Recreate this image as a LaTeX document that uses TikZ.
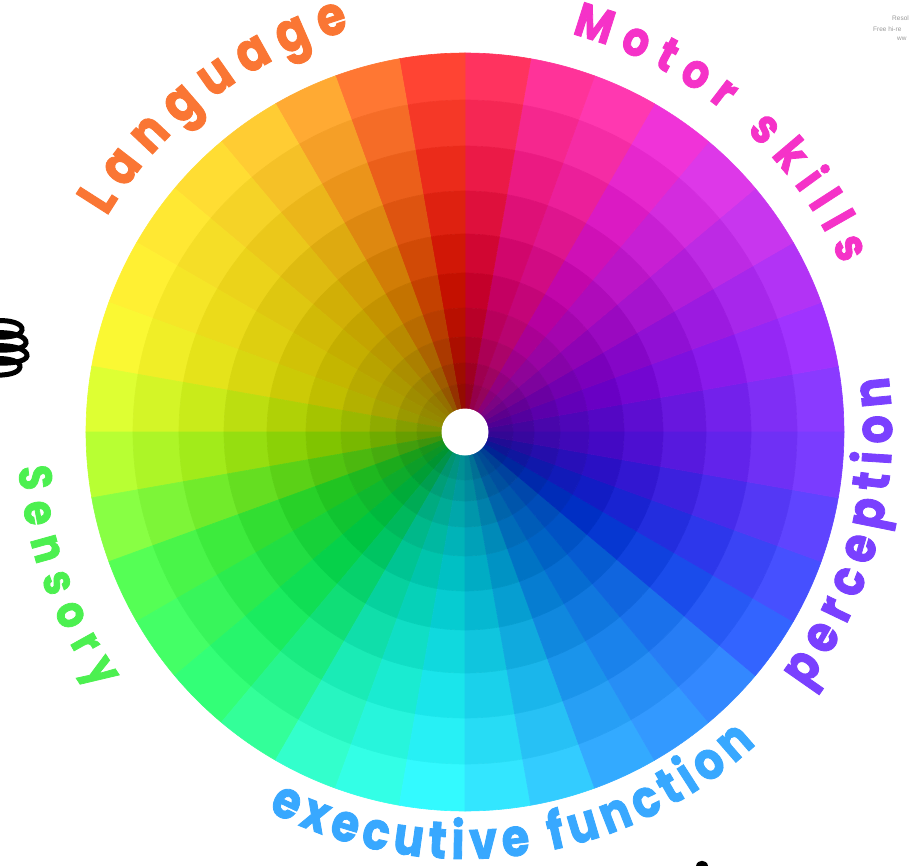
\documentclass[tikz,border=0pt]{standalone}
\usepackage{fontspec}
\newfontfamily\handfont{Poppins}[FakeStretch=0.86, FakeBold=1.6]
\newfontfamily\wmfont{Liberation Sans}
\usetikzlibrary{decorations.text}
\definecolor{clang}{RGB}{250,118,52}
\definecolor{cmotor}{RGB}{245,50,200}
\definecolor{cperc}{RGB}{122,64,255}
\definecolor{csens}{RGB}{76,240,80}
\definecolor{cexec}{RGB}{56,168,255}
\tikzset{
  wseg/.style={line width=0.6pt, line join=round},
  coil/.style={line width=5pt, line cap=round, black},
}
\begin{document}
\begin{tikzpicture}[x=1pt,y=1pt]
\useasboundingbox (-465,-433) rectangle (445,432);
\clip (-465,-433) rectangle (445,432);
% colour wheel
\foreach \R/\G/\B [count=\i from 0] in {
 138/58/255, 160/51/255, 178/51/245, 200/54/238, 221/56/232, 240/51/216,
 255/56/176, 255/51/153, 255/51/95, 255/68/51, 255/119/51, 255/170/51,
 255/204/51, 255/221/51, 255/232/51, 255/240/51, 250/248/51, 222/255/51,
 184/255/51, 136/255/68, 85/255/85, 68/255/102, 51/255/119, 51/255/153,
 51/255/204, 51/255/230, 51/250/255, 51/230/255, 51/204/255, 51/170/255,
 51/153/255, 51/136/255, 51/100/255, 70/80/255, 95/68/255, 122/60/255}{
  \foreach \ro/\ri/\s/\v in {379/332/0.80/1.00, 332/286/0.84/0.96, 286/241/0.89/0.92,
     241/198/0.93/0.87, 198/159/0.97/0.82, 159/124/1/0.77, 124/95/1/0.72,
     95/69/1/0.67, 69/48/1/0.62, 48/20/1/0.58}{
    \pgfmathtruncatemacro\cR{round(((\R-51)/204*\s+1-\s)*\v*255)}
    \pgfmathtruncatemacro\cG{round(((\G-51)/204*\s+1-\s)*\v*255)}
    \pgfmathtruncatemacro\cB{round(((\B-51)/204*\s+1-\s)*\v*255)}
    \definecolor{segc}{RGB}{\cR,\cG,\cB}
    \filldraw[wseg, fill=segc, draw=segc]
      (\i*10:\ro) arc[start angle=\i*10, end angle=\i*10+10, radius=\ro]
      -- (\i*10+10:\ri) arc[start angle=\i*10+10, end angle=\i*10, radius=\ri] -- cycle;
  }
}
\fill[white] (0,0) circle (23.5);
% labels along arcs
\path[decorate, decoration={text along path, text color=clang, text align=fit to path,
  text={|\handfont\bfseries\fontsize{54}{60}\selectfont|Language}}]
  (149:418) arc[start angle=149, end angle=106, radius=418];
\path[decorate, decoration={text along path, text color=cmotor, text align=fit to path,
  text={|\handfont\bfseries\fontsize{48}{54}\selectfont|Motor skills}}]
  (75:412) arc[start angle=75, end angle=24, radius=412];
\path[decorate, decoration={text along path, text color=cperc, text align=fit to path,
  text={|\handfont\bfseries\fontsize{52}{58}\selectfont|perception}}]
  (-37:427) arc[start angle=-37, end angle=7.5, radius=427];
\path[decorate, decoration={text along path, text color=csens, text align=fit to path,
  text={|\handfont\bfseries\fontsize{46}{52}\selectfont|Sensory}}]
  (184.5:448) arc[start angle=184.5, end angle=215, radius=448];
\path[decorate, decoration={text along path, text color=cexec, text align=fit to path,
  text={|\handfont\bfseries\fontsize{52}{58}\selectfont|executive function}}]
  (242.5:427) arc[start angle=242.5, end angle=313, radius=427];
% pixel-coordinate scope for the small extras
\begin{scope}[shift={(-465,432)}, yscale=-1]
  \draw[coil] (-10,321) .. controls (12,319) and (23,324) .. (22,330) .. controls (21,336) and (8,338) .. (-10,337);
  \draw[coil] (-10,333) .. controls (14,331) and (27,337) .. (26,343) .. controls (25,349) and (10,351) .. (-10,350);
  \draw[coil] (-10,346) .. controls (14,344) and (28,350) .. (27,356) .. controls (26,362) and (10,364) .. (-10,363);
  \draw[coil] (-10,359) .. controls (10,357) and (21,362) .. (20,367) .. controls (19,373) and (8,376) .. (-10,375);
  \fill[black] (696,866) .. controls (697,859) and (707,859) .. (708,866) -- cycle;
  \node[anchor=west, inner sep=0, text=black!40, font=\wmfont\fontsize{6.5}{7}\selectfont] (wma) at (892,18.5) {Resol};
  \node[anchor=west, inner sep=0, text=black!40, font=\wmfont\fontsize{6.5}{7}\selectfont] (wmb) at (873,29.5) {Free hi-re};
  \node[anchor=west, inner sep=0, text=black!40, font=\wmfont\fontsize{6.5}{7}\selectfont] (wmc) at (897,39) {ww};
\end{scope}
\end{tikzpicture}
\end{document}
